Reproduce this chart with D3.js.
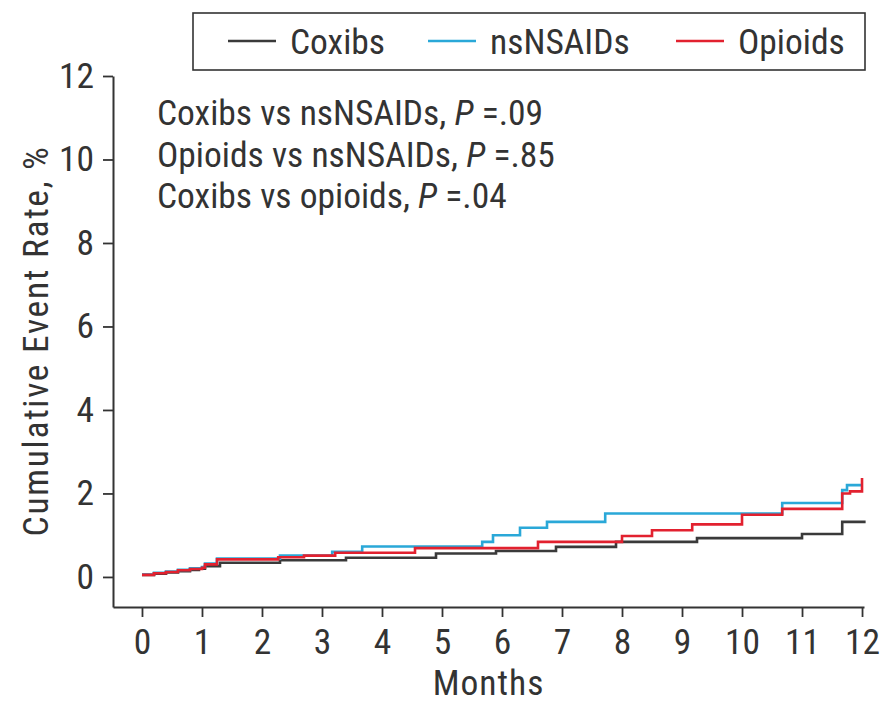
<!DOCTYPE html>
<html>
<head>
<meta charset="utf-8">
<script src="https://cdn.jsdelivr.net/npm/d3@7"></script>
<style>
  html, body { margin: 0; padding: 0; background: #ffffff; }
  svg { display: block; }
  text { font-family: "Liberation Sans Narrow", "Arial Narrow", "Roboto Condensed", sans-serif; fill: #333333; }
</style>
</head>
<body>
<svg id="chart" width="881" height="704"></svg>
<script>
// Series labels and colours
const seriesNames = ["Coxibs", "nsNSAIDs", "Opioids"];
const seriesColors = ["#3a3a3a", "#2aa8d8", "#e2212f"];

// Kaplan-Meier style cumulative event rates: [month, rate %]
const coxibs = [
  [0, 0.05], [0.2, 0.08], [0.4, 0.11], [0.6, 0.14], [0.8, 0.17], [0.95, 0.2],
  [1.05, 0.26], [1.3, 0.34], [2.3, 0.4], [3.4, 0.46], [4.9, 0.56], [5.9, 0.62],
  [6.9, 0.72], [7.9, 0.84], [9.25, 0.93], [11.0, 1.03], [11.67, 1.32], [12.06, 1.32]
];
const nsNSAIDs = [
  [0, 0.06], [0.2, 0.1], [0.4, 0.13], [0.6, 0.17], [0.8, 0.21], [1.0, 0.24],
  [1.05, 0.32], [1.25, 0.44], [2.3, 0.51], [3.17, 0.6], [3.67, 0.73], [5.67, 0.84],
  [5.85, 1.0], [6.3, 1.18], [6.75, 1.32], [7.72, 1.52], [10.67, 1.77], [11.67, 2.08],
  [11.75, 2.2], [12.0, 2.2]
];
const opioids = [
  [0, 0.05], [0.2, 0.09], [0.4, 0.12], [0.6, 0.16], [0.8, 0.19], [1.0, 0.22],
  [1.05, 0.3], [1.25, 0.42], [2.27, 0.47], [2.7, 0.51], [3.22, 0.58], [4.55, 0.69],
  [6.6, 0.84], [8.0, 0.98], [8.5, 1.12], [9.17, 1.26], [10.0, 1.49], [10.67, 1.63],
  [11.67, 2.0], [11.8, 2.05], [12.0, 2.37]
];

// Axis ticks
const xTicks = [0, 1, 2, 3, 4, 5, 6, 7, 8, 9, 10, 11, 12];
const yTicks = [0, 2, 4, 6, 8, 10, 12];

// Pairwise comparison notes
const comparisons = [
  ["Coxibs vs nsNSAIDs, ", ".09"],
  ["Opioids vs nsNSAIDs, ", ".85"],
  ["Coxibs vs opioids, ", ".04"]
];

const svg = d3.select("#chart");
const fontSize = 35.5;

const x = d3.scaleLinear().domain([-0.483, 12.033]).range([113, 864]);
const y = d3.scaleLinear().domain([-0.72, 12]).range([607, 76]);

// X axis
const xAxis = svg.append("g")
  .attr("transform", `translate(0,${y(-0.72)})`)
  .call(d3.axisBottom(x).tickValues(xTicks).tickSize(10).tickSizeOuter(0).tickPadding(12));
// Y axis
const yAxis = svg.append("g")
  .attr("transform", `translate(${x(-0.483)},0)`)
  .call(d3.axisLeft(y).tickValues(yTicks).tickSize(10).tickSizeOuter(0).tickPadding(9));

[xAxis, yAxis].forEach(g => {
  g.select(".domain").attr("stroke", "#333").attr("stroke-width", 2);
  g.selectAll(".tick line").attr("stroke", "#333").attr("stroke-width", 1.8);
  g.selectAll(".tick text")
    .attr("font-family", null)
    .style("font-size", fontSize + "px")
    .attr("fill", "#333");
});

// Axis titles
svg.append("text")
  .attr("x", (x(-0.483) + x(12.033)) / 2)
  .attr("y", 695)
  .attr("text-anchor", "middle")
  .style("font-size", fontSize + "px")
  .style("letter-spacing", "1px")
  .text("Months");

svg.append("text")
  .attr("transform", `translate(48,${341}) rotate(-90)`)
  .attr("text-anchor", "middle")
  .style("font-size", fontSize + "px")
  .style("letter-spacing", "1.7px")
  .text("Cumulative Event Rate, %");

// Step curves
const line = d3.line()
  .x(d => x(d[0]))
  .y(d => y(d[1]))
  .curve(d3.curveStepAfter);

const seriesData = [coxibs, nsNSAIDs, opioids];
[0, 1, 2].forEach(i => {
  svg.append("path")
    .datum(seriesData[i])
    .attr("fill", "none")
    .attr("stroke", seriesColors[i])
    .attr("stroke-width", 2.6)
    .attr("d", line);
});

// Comparison annotations
const notes = svg.append("g");
comparisons.forEach((c, i) => {
  const t = notes.append("text")
    .attr("x", 157)
    .attr("y", 125 + i * 41.5)
    .style("font-size", fontSize + "px");
  t.append("tspan").text(c[0]);
  t.append("tspan").style("font-style", "italic").text("P");
  t.append("tspan").text(" =" + c[1]);
});

// Legend
const legend = svg.append("g");
legend.append("rect")
  .attr("x", 193).attr("y", 13)
  .attr("width", 672).attr("height", 57)
  .attr("fill", "#fff")
  .attr("stroke", "#333")
  .attr("stroke-width", 1.6);
const legendLineX = [228, 428, 676];
seriesNames.forEach((name, i) => {
  legend.append("line")
    .attr("x1", legendLineX[i]).attr("x2", legendLineX[i] + 48)
    .attr("y1", 41).attr("y2", 41)
    .attr("stroke", seriesColors[i])
    .attr("stroke-width", 2.6);
  legend.append("text")
    .attr("x", legendLineX[i] + 62)
    .attr("y", 54)
    .style("font-size", fontSize + "px")
    .text(name);
});
</script>
</body>
</html>
